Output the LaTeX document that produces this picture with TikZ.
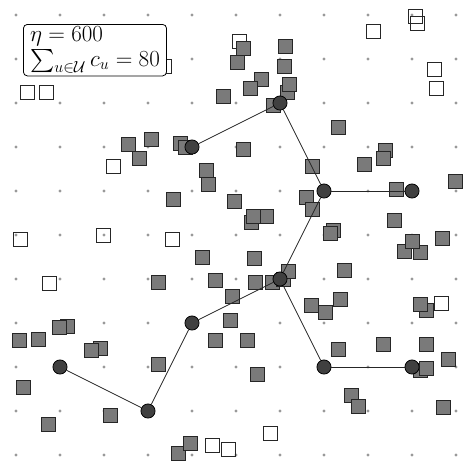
\documentclass[tikz,border=0pt]{standalone}
\usepackage{amsmath}
\usepackage{tikz}

\begin{document}
\begin{tikzpicture}[x=0.75pt, y=-0.75pt,
    site/.style={circle, fill=black!40, inner sep=0pt, minimum size=2.4pt},
    full/.style={rectangle, draw=black!85, fill=black!52, line width=0.75pt, minimum size=10.5pt, inner sep=0pt},
    empty/.style={rectangle, draw=black!85, line width=0.75pt, minimum size=10.5pt, inner sep=0pt},
    hub/.style={circle, draw=black, fill=black!75, line width=0.6pt, minimum size=10.6pt, inner sep=0pt},
    link/.style={black!85, line width=0.6pt}]
    \useasboundingbox (0,0) rectangle (463,462);

    % grid of candidate sites
    \foreach \i in {0,...,10}
      \foreach \j in {0,...,10}
        \node[site] (s-\i-\j) at (16+44*\i, 15+44*\j) {};

    % users not covered
    \foreach \x/\y [count=\k] in {27.5/92, 46/92, 164.5/66, 239/41, 373/31, 415/16, 417/23.5,
        434/69, 436/88, 113/166, 20.5/239, 103/235, 172/239, 49.5/283.5, 441/303.5,
        270.5/433.5, 212.5/445.5, 228.5/449.5}
      \node[empty] (e\k) at (\x,\y) {};

    % users covered
    \foreach \x/\y [count=\k] in {243/48, 237/62, 285/46, 284/66, 261/79, 250/88, 223/96,
        287/92, 289/84, 273/105, 338/127, 243/149, 180/143.5, 185.5/147.5, 128.5/144,
        151.5/139.5, 139/158.5, 385.5/150.5, 383.5/158.5, 364.5/164.5, 312/166.5,
        206.5/170, 208.5/184.5, 173.5/199, 234.5/201.5, 306.5/197.5, 312.5/209.5,
        396.5/189.5, 455.5/181.5, 251.5/222.5, 266.5/216.5, 253.5/216.5, 394.5/220.5,
        333.5/230.5, 330.5/233.5, 442.5/238.5, 404.5/251.5, 420.5/252.5, 412.5/241.5,
        202.5/257.5, 254.5/258.5, 344.5/270.5, 158/282.5, 215.5/280.5, 255.5/282.5,
        272.5/282.5, 283.5/279.5, 288.5/271.5, 232.5/296.5, 230.5/320.5, 215.5/340.5,
        247.5/340.5, 311.5/305.5, 325.5/312.5, 340.5/299.5, 426.5/310.5, 420.5/304.5,
        338.5/349.5, 383.5/344.5, 426.5/344.5, 448.5/359.5, 420.5/370.5, 426.5/368.5,
        351.5/395.5, 358.5/406.5, 443.5/407.5, 257.5/374.5, 67.5/326.5, 59.5/327.5,
        19.5/340.5, 38.5/339.5, 100.5/348.5, 91.5/350.5, 158.5/364.5, 23.5/387,
        110.5/415.5, 48.5/424.5, 178.5/453.5, 190.5/443.5}
      \node[full] (c\k) at (\x,\y) {};

    % open hubs
    \node[hub] (h1) at (192,147) {};
    \node[hub] (h2) at (280,103) {};
    \node[hub] (h3) at (324,191) {};
    \node[hub] (h4) at (412,191) {};
    \node[hub] (h5) at (280,279) {};
    \node[hub] (h6) at (192,323) {};
    \node[hub] (h7) at (324,367) {};
    \node[hub] (h8) at (412,367) {};
    \node[hub] (h9) at (148,411) {};
    \node[hub] (h10) at (60,367) {};

    \foreach \a/\b in {h1/h2, h2/h3, h3/h4, h3/h5, h5/h6, h5/h7, h7/h8, h6/h9, h9/h10}
      \draw[link] (\a) -- (\b);

    \node[draw, fill=white, rounded corners=3pt, line width=0.6pt, align=left,
          anchor=north west, inner xsep=5pt, inner ysep=1.8pt,
          font=\fontsize{17}{18.5}\selectfont]
          (key) at (23,24) {$\eta = 600$\\ $\sum_{u\in\mathcal{U}} c_u = 80$};
\end{tikzpicture}
\end{document}
